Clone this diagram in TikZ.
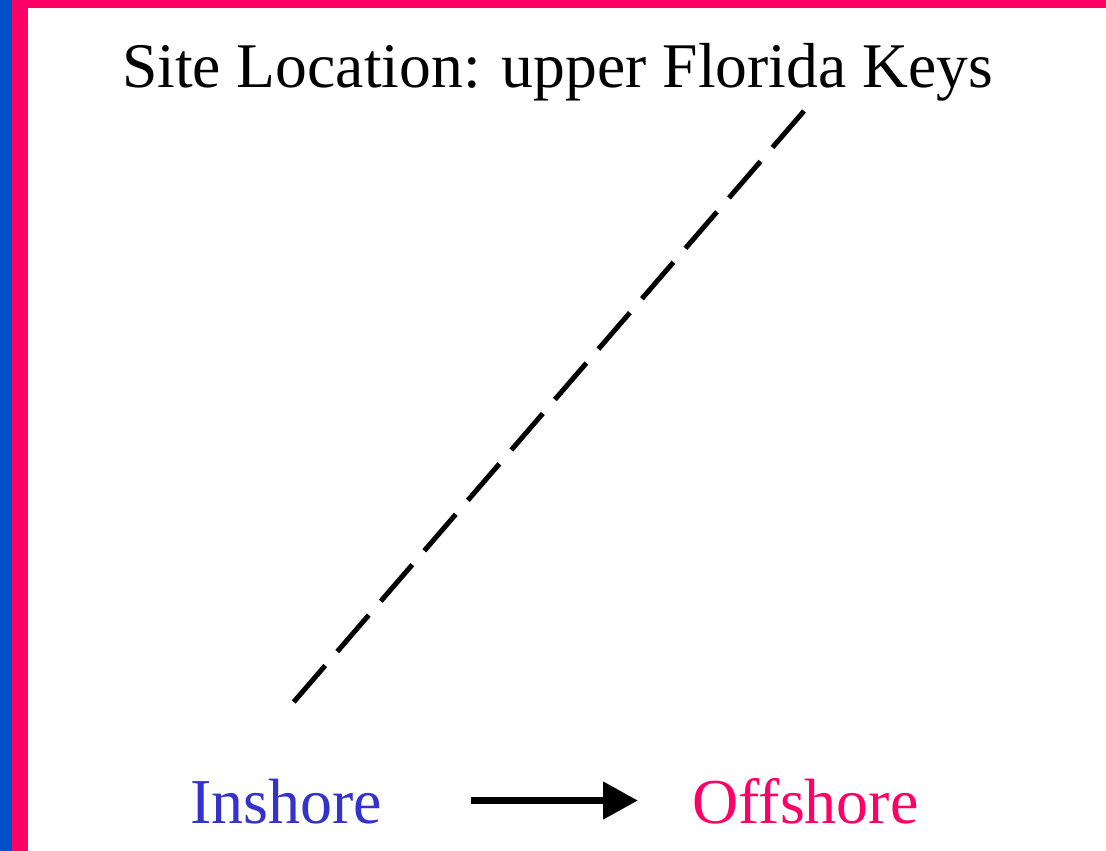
\documentclass[tikz,border=0pt]{standalone}
\usepackage{fontspec}
\setmainfont{Liberation Serif}
\usepackage{tikz}
\usetikzlibrary{arrows.meta}
\definecolor{stripeblue}{RGB}{0,80,200}
\definecolor{hotpink}{RGB}{255,0,102}
\definecolor{inblue}{RGB}{51,51,204}

\begin{document}
\begin{tikzpicture}[x=1pt, y=-1pt, every node/.style={inner sep=0pt, anchor=base}, big/.style={font=\fontsize{64}{70}\selectfont}]
\useasboundingbox (0,0) rectangle (1106,851);
\fill[white] (0,0) rectangle (1106,851);
\fill[stripeblue] (0,0) rectangle (12,851);
\fill[hotpink] (12,0) rectangle (28,851);
\fill[hotpink] (12,0) rectangle (1106,8);
\node[font=\fontsize{63.6}{70}\selectfont] (title) at (557.5,88) {Site Location: upper Florida Keys};
\coordinate (low) at (292,704);
\coordinate (high) at (804,111);
\draw[line width=5pt, dash pattern=on 48.2pt off 18.4pt] (high) -- (low);
\node[big, text=inblue] (in) at (286,823) {Inshore};
\node[big, text=hotpink] (off) at (805.5,823) {Offshore};
\coordinate (from) at (471,800.5);
\coordinate (to) at (638,800.5);
\draw[line width=7.7pt, -{Triangle[length=35pt,width=36pt]}] (from) -- (to);
\end{tikzpicture}
\end{document}
